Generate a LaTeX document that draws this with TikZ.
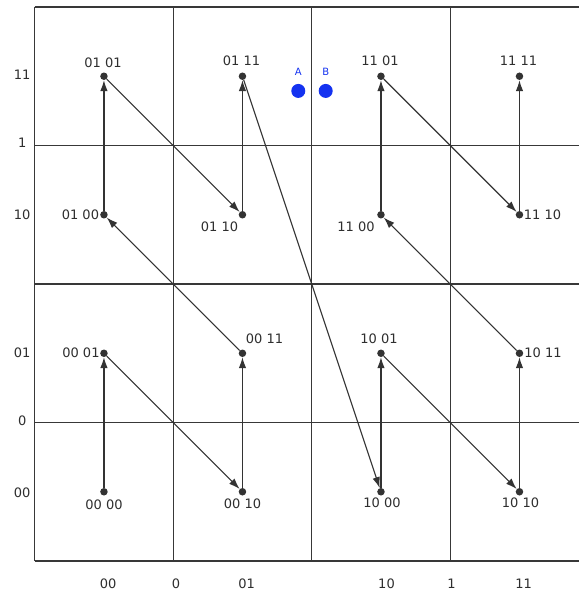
\documentclass[tikz,border=0pt]{standalone}
\usepackage{fontspec}
\setmainfont{DejaVu Sans}
\usetikzlibrary{arrows.meta,positioning}
\definecolor{gridgray}{HTML}{383838}
\definecolor{dotgray}{HTML}{333333}
\definecolor{txtgray}{HTML}{2E2E2E}
\definecolor{ptblue}{HTML}{1432F0}

\begin{document}
\begin{tikzpicture}[x=138.5pt,y=138.5pt,
    dot/.style={circle,fill=dotgray,inner sep=0pt,minimum size=7.5pt},
    lbl/.style={font=\fontsize{13}{15}\selectfont,text=txtgray,inner sep=0pt},
    hop/.style={draw=dotgray,line width=1.1pt,-{Latex[length=11pt,width=7.5pt]}}]
    \useasboundingbox (-0.2505,-0.238) rectangle (3.930,4.0505);
    % grid
    \foreach \i in {0,...,4}{
      \draw[gridgray,line width=1.2pt] (0,\i) -- (3.930,\i);
    }
    \foreach \i in {0,...,3}{
      \draw[gridgray,line width=1.2pt] (\i,0) -- (\i,4);
    }
    % axis labels
    \foreach \t/\v [count=\k] in {00/0.49,0/1.01,01/1.5,10/2.5,1/3.02,11/3.51}{
      \node[lbl] (ly\k) at (-0.09,\v) {\t};
    }
    \foreach \t/\u [count=\k] in {00/0.53,0/1.02,01/1.53,10/2.54,1/3.01,11/3.53}{
      \node[lbl] (lx\k) at (\u,-0.161) {\t};
    }
    % cells
    \foreach \a/\b/\u/\v/\dx/\dy in {00/00/0/0/0/-12.5, 00/01/0/1/-23/0, 00/10/1/0/0/-12, 00/11/1/1/22/14,
        01/00/0/2/-23.5/0, 01/01/0/3/-1/13, 01/10/1/2/-23/-12.5, 01/11/1/3/-1/15,
        10/00/2/0/1/-11, 10/01/2/1/-2/14, 10/10/3/0/1/-11, 10/11/3/1/23.5/0,
        11/00/2/2/-25/-12, 11/01/2/3/-1/15, 11/10/3/2/23/0, 11/11/3/3/-1/15}{
      \node[dot] (p\a\b) at (\u+0.5,\v+0.5) {};
      \node[lbl] (t\a\b) at ([shift={(\dx pt,\dy pt)}]p\a\b) {\a\ \b};
    }
    % curve
    \foreach \s/\e in {0000/0001,0001/0010,0010/0011,0011/0100,0100/0101,0101/0110,0110/0111,0111/1000,
        1000/1001,1001/1010,1010/1011,1011/1100,1100/1101,1101/1110,1110/1111}{
      \draw[hop] (p\s) -- (p\e);
    }
    % A and B
    \node[circle,fill=ptblue,inner sep=0pt,minimum size=14pt] (ptA) at (1.903,3.394) {};
    \node[circle,fill=ptblue,inner sep=0pt,minimum size=14pt] (ptB) at (2.101,3.394) {};
    \node[font=\fontsize{10}{12}\selectfont,text=ptblue,inner sep=0pt,above=8pt of ptA] (nA) {A};
    \node[font=\fontsize{10}{12}\selectfont,text=ptblue,inner sep=0pt,above=8pt of ptB] (nB) {B};
  \end{tikzpicture}
\end{document}
